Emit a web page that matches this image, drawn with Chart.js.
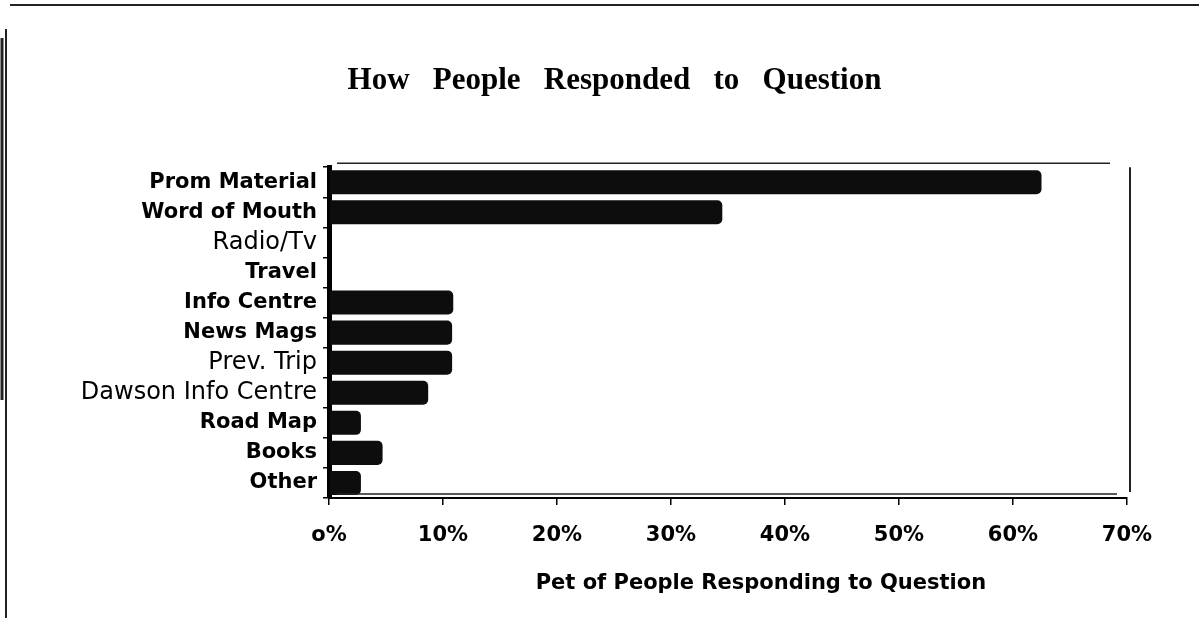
<!DOCTYPE html>
<html>
<head>
<meta charset="utf-8">
<script src="https://cdn.jsdelivr.net/npm/chart.js@4/dist/chart.umd.min.js"></script>
<style>
  html, body { margin: 0; padding: 0; background: #fff; }
  #wrap { width: 1199px; height: 618px; position: relative; }
</style>
</head>
<body>
<div id="wrap"><canvas id="c"></canvas></div>
<script>
// ---- data ----
const categories = ['Prom Material', 'Word of Mouth', 'Radio/Tv', 'Travel', 'Info Centre',
  'News Mags', 'Prev. Trip', 'Dawson Info Centre', 'Road Map', 'Books', 'Other'];
const responsePct = [62.5, 34.5, 0, 0, 10.9, 10.8, 10.8, 8.7, 2.8, 4.7, 2.8];
const tickLabels = ['o%', '10%', '20%', '30%', '40%', '50%', '60%', '70%'];
const normalWeightLabels = ['Radio/Tv', 'Prev. Trip', 'Dawson Info Centre'];
const chartTitle = '        How   People   Responded   to   Question';
const xAxisTitle = 'Pet of People Responding to Question';

// ---- decorative page frame (scan edges) ----
const pageFrame = {
  id: 'pageFrame',
  afterDraw(chart) {
    const ctx = chart.ctx;
    const a = chart.chartArea;
    ctx.save();
    ctx.strokeStyle = '#222';
    ctx.lineWidth = 2;
    ctx.beginPath(); ctx.moveTo(10, 5); ctx.lineTo(1199, 5); ctx.stroke();
    ctx.beginPath(); ctx.moveTo(6, 29); ctx.lineTo(6, 618); ctx.stroke();
    ctx.lineWidth = 3;
    ctx.beginPath(); ctx.moveTo(2, 38); ctx.lineTo(2, 400); ctx.stroke();
    ctx.lineWidth = 2;
    ctx.beginPath(); ctx.moveTo(1130, a.top); ctx.lineTo(1130, a.bottom - 6); ctx.stroke();
    ctx.lineWidth = 1.5;
    ctx.beginPath(); ctx.moveTo(a.left + 8, a.top - 4); ctx.lineTo(a.right - 17, a.top - 4); ctx.stroke();
    ctx.beginPath(); ctx.moveTo(a.left + 8, a.bottom - 4); ctx.lineTo(a.right - 10, a.bottom - 4); ctx.stroke();
    ctx.restore();
  }
};

new Chart(document.getElementById('c'), {
  type: 'bar',
  data: {
    labels: categories,
    datasets: [{
      data: responsePct,
      backgroundColor: '#0d0d0d',
      borderWidth: 0,
      borderRadius: { topRight: 5, bottomRight: 5, topLeft: 0, bottomLeft: 0 },
      borderSkipped: 'start',
      categoryPercentage: 1,
      barPercentage: 0.8
    }]
  },
  options: {
    indexAxis: 'y',
    responsive: true,
    maintainAspectRatio: false,
    devicePixelRatio: 1,
    animation: false,
    layout: { padding: { left: 40, right: 72, top: 0, bottom: 0 } },
    plugins: {
      legend: { display: false },
      tooltip: { enabled: false },
      title: {
        display: true,
        text: chartTitle,
        color: '#000',
        font: { family: '"Liberation Serif", "Times New Roman", serif', size: 31, weight: 'bold' },
        padding: { top: 62, bottom: 68 }
      }
    },
    scales: {
      x: {
        min: 0, max: 70,
        afterFit(scale) { scale.height = 120; },
        grid: { drawOnChartArea: false, drawTicks: true, tickLength: 7, color: '#000', lineWidth: 1.5 },
        border: { display: true, color: '#000', width: 2 },
        ticks: {
          stepSize: 10,
          color: '#000',
          padding: 18,
          font: { family: '"DejaVu Sans", sans-serif', size: 21, weight: 'bold' },
          callback: (v) => tickLabels[Math.round(v / 10)]
        },
        title: {
          display: true,
          text: '         ' + xAxisTitle,
          color: '#000',
          font: { family: '"DejaVu Sans", sans-serif', size: 21, weight: 'bold' },
          padding: { top: 0, bottom: 22 }
        }
      },
      y: {
        afterFit(scale) { scale.width = 289; },
        grid: { drawOnChartArea: false, drawTicks: true, tickLength: 6, color: '#000', lineWidth: 1.5, offset: true },
        border: { display: true, color: '#000', width: 5 },
        ticks: {
          color: '#000',
          padding: 6,
          autoSkip: false,
          font: (ctx) => {
            const lbl = categories[ctx.index];
            const normal = normalWeightLabels.includes(lbl);
            return { family: '"DejaVu Sans", sans-serif', size: normal ? 24 : 21, weight: normal ? 'normal' : 'bold' };
          }
        }
      }
    }
  },
  plugins: [pageFrame]
});
</script>
</body>
</html>
